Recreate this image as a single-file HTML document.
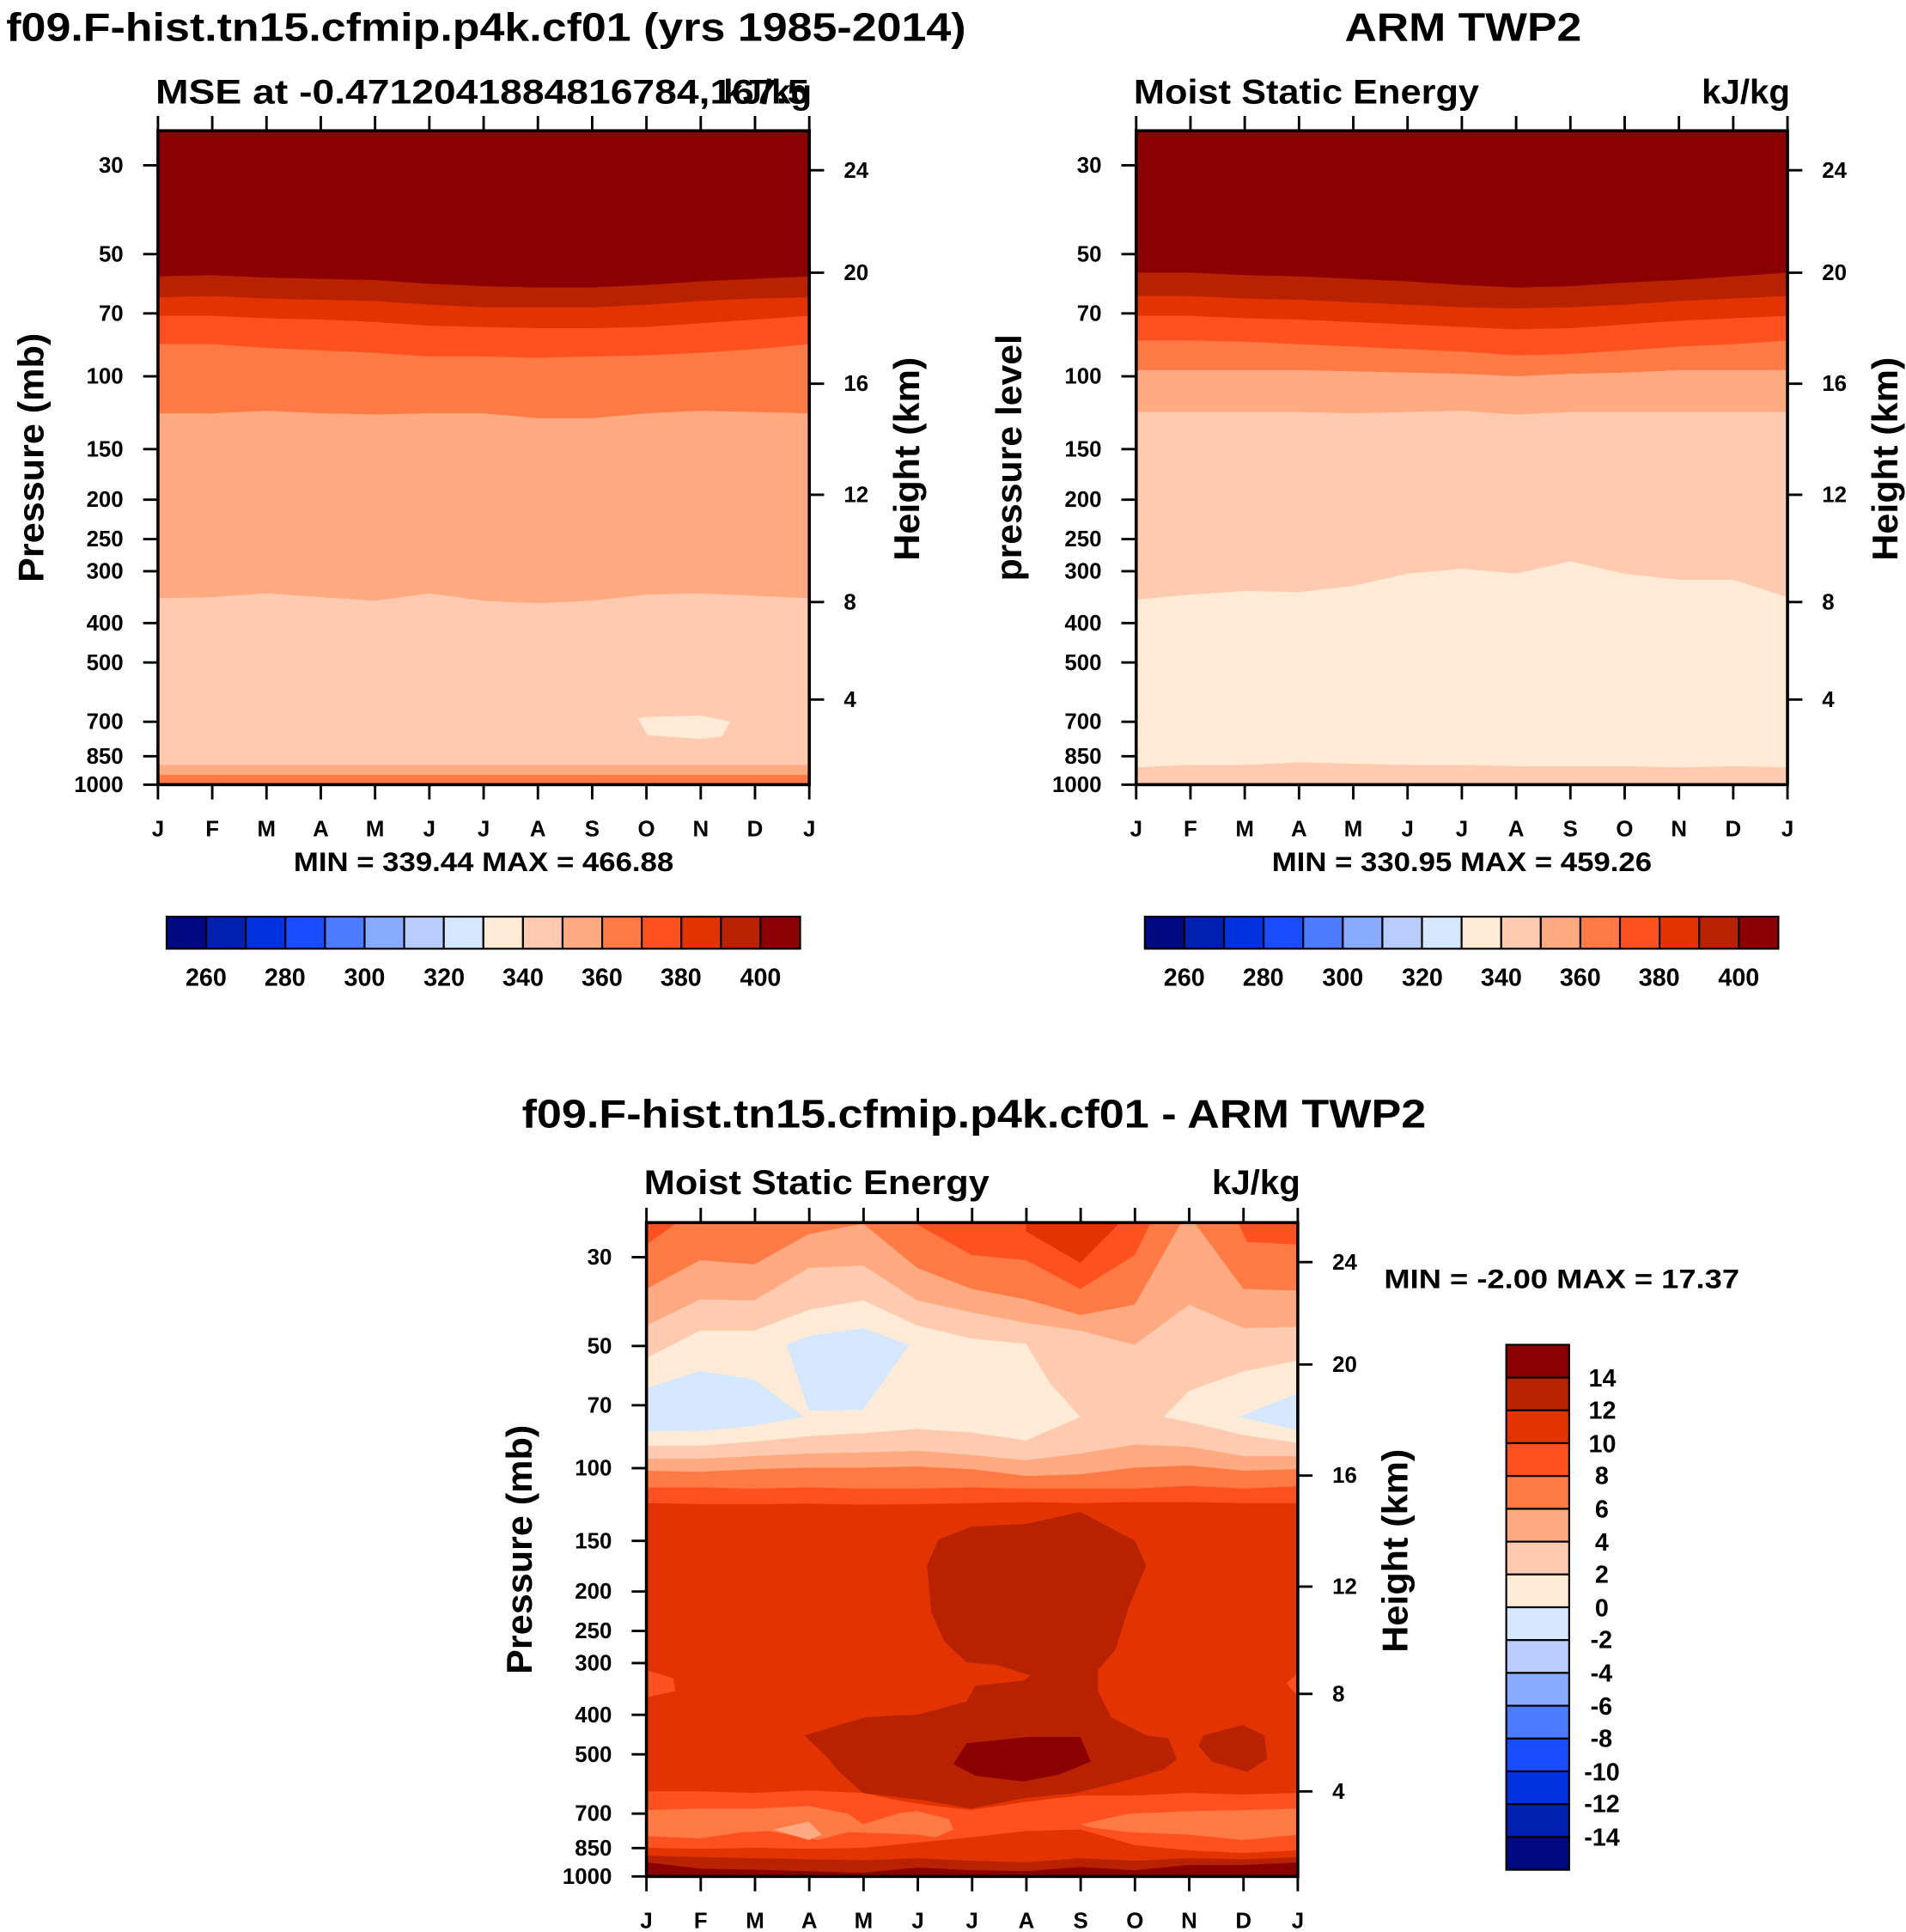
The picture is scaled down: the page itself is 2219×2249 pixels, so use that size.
<!DOCTYPE html>
<html><head><meta charset="utf-8"><style>html,body{margin:0;padding:0;background:#fff}svg{display:block}text{font-family:"Liberation Sans",sans-serif;font-weight:bold;fill:#000}</style></head><body>
<svg width="2219" height="2249" viewBox="0 0 1545 1566" xmlns="http://www.w3.org/2000/svg">
<defs>
<clipPath id="cp"><rect x="128" y="106" width="528" height="530"/></clipPath>
</defs>
<rect width="1545" height="1566" fill="#fff"/>
<text x="5" y="33" font-size="32" textLength="778" lengthAdjust="spacingAndGlyphs">f09.F-hist.tn15.cfmip.p4k.cf01 (yrs 1985-2014)</text>
<text x="1090" y="33" font-size="32" textLength="192" lengthAdjust="spacingAndGlyphs">ARM TWP2</text>
<text x="423" y="914" font-size="32" textLength="733" lengthAdjust="spacingAndGlyphs">f09.F-hist.tn15.cfmip.p4k.cf01 - ARM TWP2</text>

<!-- TOP LEFT -->
<g clip-path="url(#cp)">
<rect x="128" y="106" width="528" height="530" fill="#ff7a45"/>
<polygon fill="#ffaa80" points="128,106 128,628 656,628 656,106"/>
<polygon fill="#ffcbb0" points="128,106 128,620 656,620 656,106"/>
<polygon fill="#ffaa80" points="128,106 128,485 172,484 216,481 260,484 304,487 348,481 392,487 436,489 480,487 524,482 568,481 612,483 656,485 656,106"/>
<polygon fill="#ff7a45" points="128,106 128,335 172,335 216,333 260,335 304,336 348,335 392,335 436,339 480,339 524,335 568,333 612,334 656,335 656,106"/>
<polygon fill="#ff5020" points="128,106 128,279 172,279 216,282 260,284 304,286 348,289 392,289 436,290 480,289 524,288 568,286 612,283 656,279 656,106"/>
<polygon fill="#e23300" points="128,106 128,256 172,256 216,258 260,259 304,261 348,264 392,265 436,266 480,266 524,265 568,262 612,259 656,256 656,106"/>
<polygon fill="#b82200" points="128,106 128,241 172,240 216,242 260,243 304,244 348,247 392,249 436,249 480,249 524,247 568,244 612,242 656,241 656,106"/>
<polygon fill="#8b0000" points="128,106 128,224 172,223 216,225 260,226 304,227 348,230 392,232 436,233 480,233 524,231 568,228 612,226 656,224 656,106"/>
<polygon fill="#ffebd6" points="517,582 530,581 568,580 592,585 585,597 568,599 525,596"/>
</g>

<!-- TOP RIGHT -->
<g transform="translate(793,0)">
<g clip-path="url(#cp)">
<rect x="128" y="106" width="528" height="530" fill="#ffcbb0"/>
<polygon fill="#ffebd6" points="128,106 128,622 172,620 216,620 260,618 304,619 348,620 392,620 436,621 480,621 524,621 568,622 612,621 656,622 656,106"/>
<polygon fill="#ffcbb0" points="128,106 128,486 172,482 216,479 260,480 304,475 348,465 392,461 436,465 480,455 524,465 568,470 612,470 656,484 656,106"/>
<polygon fill="#ffaa80" points="128,106 128,334 172,334 216,334 260,334 304,335 348,334 392,333 436,336 480,334 524,334 568,334 612,334 656,334 656,106"/>
<polygon fill="#ff7a45" points="128,106 128,300 172,300 216,300 260,300 304,301 348,302 392,303 436,305 480,303 524,302 568,300 612,300 656,300 656,106"/>
<polygon fill="#ff5020" points="128,106 128,276 172,276 216,277 260,279 304,281 348,283 392,285 436,288 480,287 524,284 568,281 612,279 656,276 656,106"/>
<polygon fill="#e23300" points="128,106 128,256 172,256 216,258 260,259 304,261 348,263 392,265 436,267 480,266 524,263 568,260 612,258 656,256 656,106"/>
<polygon fill="#b82200" points="128,106 128,240 172,240 216,242 260,243 304,245 348,247 392,249 436,250 480,249 524,247 568,244 612,242 656,240 656,106"/>
<polygon fill="#8b0000" points="128,106 128,221 172,221 216,223 260,224 304,226 348,228 392,231 436,233 480,232 524,229 568,227 612,224 656,221 656,106"/>
</g>
</g>

<!-- BOTTOM -->
<g transform="translate(396,885)">
<g clip-path="url(#cp)">
<g transform="translate(21.4,20.1) scale(0.7107,0.4233)">
<rect x="150" y="203" width="743" height="1252" fill="#e23300"/>
<polygon fill="#ff5020" points="150,203 150,740 211,742 273,742 335,741 397,743 459,742 521,740 583,738 645,740 707,738 769,738 831,740 893,740 893,203"/>
<polygon fill="#ff7a45" points="150,203 150,710 211,710 273,712 335,710 397,712 459,712 521,710 583,712 645,712 707,712 769,707 831,712 893,708 893,203"/>
<polygon fill="#ffaa80" points="150,203 150,678 211,680 273,675 335,672 397,672 459,670 521,675 583,688 645,685 707,672 769,668 831,678 893,675 893,203"/>
<polygon fill="#ffcbb0" points="150,203 150,655 211,655 273,650 335,645 397,643 459,640 521,648 583,658 645,645 707,628 769,632 831,650 893,650 893,203"/>
<polygon fill="#ffaa80" points="150,203 150,400 211,350 273,352 335,290 397,285 459,352 521,375 583,395 645,410 707,437 769,360 831,405 893,403 893,203"/>
<polygon fill="#ff7a45" points="150,203 150,330 211,275 273,283 335,225 397,205 459,290 521,330 583,350 645,380 707,360 760,203 775,203 831,330 893,333 893,203"/>
<polygon fill="#ff5020" points="150,203 150,245 185,203"/>
<polygon fill="#ff5020" points="455,203 521,265 583,275 645,330 707,265 725,203"/>
<polygon fill="#ff5020" points="825,203 835,240 893,245 893,203"/>
<polygon fill="#e23300" points="583,203 583,220 645,280 690,203"/>
<polygon fill="#ffebd6" points="150,462 211,410 273,410 335,370 397,352 459,400 521,425 583,435 610,510 645,575 583,620 521,605 459,598 397,606 335,612 273,622 211,630 150,630"/>
<polygon fill="#ffebd6" points="893,467 831,488 769,525 740,575 769,585 831,610 893,625"/>
<polygon fill="#d6e8ff" points="150,520 211,487 273,503 330,575 273,592 211,602 150,603"/>
<polygon fill="#d6e8ff" points="310,437 335,420 397,405 450,437 397,562 335,563"/>
<polygon fill="#d6e8ff" points="825,575 893,530 893,600"/>
<polygon fill="#ff5020" points="150,1060 180,1075 183,1100 150,1112"/>
<polygon fill="#ff5020" points="893,1065 880,1085 893,1110"/>
<polygon fill="#b82200" points="483,810 521,785 583,780 645,757 707,812 720,860 700,940 685,1020 665,1060 665,1100 680,1150 720,1185 745,1190 755,1230 740,1250 700,1270 640,1295 580,1305 520,1325 470,1310 397,1295 370,1255 355,1225 330,1185 400,1150 460,1145 515,1120 525,1090 580,1080 588,1070 550,1050 515,1045 490,1005 475,950 470,860"/>
<polygon fill="#b82200" points="785,1185 830,1165 855,1185 858,1230 835,1255 795,1235 780,1205"/>
<polygon fill="#8b0000" points="515,1200 585,1188 645,1188 657,1235 620,1260 580,1273 525,1262 500,1240"/>
<polygon fill="#ff5020" points="150,1292 211,1292 273,1295 335,1290 397,1295 440,1310 470,1318 520,1328 583,1312 645,1300 707,1300 769,1295 831,1298 893,1295 893,1405 831,1410 769,1405 707,1395 645,1365 583,1368 521,1380 459,1390 397,1400 335,1402 273,1400 211,1402 150,1400"/>
<polygon fill="#ff7a45" points="150,1328 211,1325 273,1325 335,1320 380,1335 397,1355 440,1333 459,1330 495,1345 500,1365 480,1380 460,1375 380,1370 345,1385 290,1368 260,1370 211,1382 150,1378"/>
<polygon fill="#ffaa80" points="295,1365 335,1350 350,1375 335,1385"/>
<polygon fill="#ff7a45" points="645,1355 700,1335 769,1330 831,1328 893,1325 893,1375 831,1385 769,1375 700,1370 660,1362"/>
<polygon fill="#b82200" points="150,1455 150,1415 211,1418 273,1420 335,1422 397,1424 459,1420 521,1425 583,1428 645,1420 707,1425 769,1420 831,1422 893,1418 893,1455"/>
<polygon fill="#8b0000" points="150,1455 150,1428 211,1440 273,1442 335,1445 397,1448 459,1438 521,1443 583,1445 645,1437 707,1443 769,1433 831,1433 893,1428 893,1455"/>
</g>
</g>
</g>

<!-- AXES (3 copies) -->
<g stroke="#000" stroke-width="2" fill="none">
<rect x="128" y="106" width="528" height="530" stroke-width="2.5"/>
<path d="M128 636v12M172 636v12M216 636v12M260 636v12M304 636v12M348 636v12M392 636v12M436 636v12M480 636v12M524 636v12M568 636v12M612 636v12M656 636v12M128 106v-12M172 106v-12M216 106v-12M260 106v-12M304 106v-12M348 106v-12M392 106v-12M436 106v-12M480 106v-12M524 106v-12M568 106v-12M612 106v-12M656 106v-12M116 134h12M116 206h12M116 254h12M116 305h12M116 364h12M116 405h12M116 437h12M116 463h12M116 505h12M116 537h12M116 585h12M116 613h12M116 636h12M656 138h12M656 221h12M656 311h12M656 401h12M656 488h12M656 567h12"/>
</g>
<g transform="translate(793,0)" stroke="#000" stroke-width="2" fill="none">
<rect x="128" y="106" width="528" height="530" stroke-width="2.5"/>
<path d="M128 636v12M172 636v12M216 636v12M260 636v12M304 636v12M348 636v12M392 636v12M436 636v12M480 636v12M524 636v12M568 636v12M612 636v12M656 636v12M128 106v-12M172 106v-12M216 106v-12M260 106v-12M304 106v-12M348 106v-12M392 106v-12M436 106v-12M480 106v-12M524 106v-12M568 106v-12M612 106v-12M656 106v-12M116 134h12M116 206h12M116 254h12M116 305h12M116 364h12M116 405h12M116 437h12M116 463h12M116 505h12M116 537h12M116 585h12M116 613h12M116 636h12M656 138h12M656 221h12M656 311h12M656 401h12M656 488h12M656 567h12"/>
</g>
<g transform="translate(396,885)" stroke="#000" stroke-width="2" fill="none">
<rect x="128" y="106" width="528" height="530" stroke-width="2.5"/>
<path d="M128 636v12M172 636v12M216 636v12M260 636v12M304 636v12M348 636v12M392 636v12M436 636v12M480 636v12M524 636v12M568 636v12M612 636v12M656 636v12M128 106v-12M172 106v-12M216 106v-12M260 106v-12M304 106v-12M348 106v-12M392 106v-12M436 106v-12M480 106v-12M524 106v-12M568 106v-12M612 106v-12M656 106v-12M116 134h12M116 206h12M116 254h12M116 305h12M116 364h12M116 405h12M116 437h12M116 463h12M116 505h12M116 537h12M116 585h12M116 613h12M116 636h12M656 138h12M656 221h12M656 311h12M656 401h12M656 488h12M656 567h12"/>
</g>

<!-- axis text copies -->
<g font-size="18" text-anchor="middle">
<g><text x="128" y="678">J</text><text x="172" y="678">F</text><text x="216" y="678">M</text><text x="260" y="678">A</text><text x="304" y="678">M</text><text x="348" y="678">J</text><text x="392" y="678">J</text><text x="436" y="678">A</text><text x="480" y="678">S</text><text x="524" y="678">O</text><text x="568" y="678">N</text><text x="612" y="678">D</text><text x="656" y="678">J</text></g>
<g transform="translate(793,0)"><text x="128" y="678">J</text><text x="172" y="678">F</text><text x="216" y="678">M</text><text x="260" y="678">A</text><text x="304" y="678">M</text><text x="348" y="678">J</text><text x="392" y="678">J</text><text x="436" y="678">A</text><text x="480" y="678">S</text><text x="524" y="678">O</text><text x="568" y="678">N</text><text x="612" y="678">D</text><text x="656" y="678">J</text></g>
<g transform="translate(396,885)"><text x="128" y="678">J</text><text x="172" y="678">F</text><text x="216" y="678">M</text><text x="260" y="678">A</text><text x="304" y="678">M</text><text x="348" y="678">J</text><text x="392" y="678">J</text><text x="436" y="678">A</text><text x="480" y="678">S</text><text x="524" y="678">O</text><text x="568" y="678">N</text><text x="612" y="678">D</text><text x="656" y="678">J</text></g>
</g>
<g font-size="18" text-anchor="end">
<g><text x="100" y="140">30</text><text x="100" y="212">50</text><text x="100" y="260">70</text><text x="100" y="311">100</text><text x="100" y="370">150</text><text x="100" y="411">200</text><text x="100" y="443">250</text><text x="100" y="469">300</text><text x="100" y="511">400</text><text x="100" y="543">500</text><text x="100" y="591">700</text><text x="100" y="619">850</text><text x="100" y="642">1000</text></g>
<g transform="translate(793,0)"><text x="100" y="140">30</text><text x="100" y="212">50</text><text x="100" y="260">70</text><text x="100" y="311">100</text><text x="100" y="370">150</text><text x="100" y="411">200</text><text x="100" y="443">250</text><text x="100" y="469">300</text><text x="100" y="511">400</text><text x="100" y="543">500</text><text x="100" y="591">700</text><text x="100" y="619">850</text><text x="100" y="642">1000</text></g>
<g transform="translate(396,885)"><text x="100" y="140">30</text><text x="100" y="212">50</text><text x="100" y="260">70</text><text x="100" y="311">100</text><text x="100" y="370">150</text><text x="100" y="411">200</text><text x="100" y="443">250</text><text x="100" y="469">300</text><text x="100" y="511">400</text><text x="100" y="543">500</text><text x="100" y="591">700</text><text x="100" y="619">850</text><text x="100" y="642">1000</text></g>
</g>
<g font-size="18">
<g><text x="684" y="144">24</text><text x="684" y="227">20</text><text x="684" y="317">16</text><text x="684" y="407">12</text><text x="684" y="494">8</text><text x="684" y="573">4</text></g>
<g transform="translate(793,0)"><text x="684" y="144">24</text><text x="684" y="227">20</text><text x="684" y="317">16</text><text x="684" y="407">12</text><text x="684" y="494">8</text><text x="684" y="573">4</text></g>
<g transform="translate(396,885)"><text x="684" y="144">24</text><text x="684" y="227">20</text><text x="684" y="317">16</text><text x="684" y="407">12</text><text x="684" y="494">8</text><text x="684" y="573">4</text></g>
</g>

<!-- subtitles -->
<g font-size="28">
<text x="126" y="84" textLength="530" lengthAdjust="spacingAndGlyphs">MSE at -0.4712041884816784,167.5</text>
<text x="658" y="84" text-anchor="end">kJ/kg</text>
<text x="919" y="84" textLength="280" lengthAdjust="spacingAndGlyphs">Moist Static Energy</text>
<text x="1451" y="84" text-anchor="end">kJ/kg</text>
<text x="522" y="968" textLength="280" lengthAdjust="spacingAndGlyphs">Moist Static Energy</text>
<text x="1054" y="968" text-anchor="end">kJ/kg</text>
</g>
<g font-size="29" text-anchor="middle">
<text transform="translate(35,371) rotate(-90)" textLength="202" lengthAdjust="spacingAndGlyphs">Pressure (mb)</text>
<text transform="translate(745,372) rotate(-90)" textLength="165" lengthAdjust="spacingAndGlyphs">Height (km)</text>
<text transform="translate(828,371) rotate(-90)" textLength="200" lengthAdjust="spacingAndGlyphs">pressure level</text>
<text transform="translate(1538,372) rotate(-90)" textLength="165" lengthAdjust="spacingAndGlyphs">Height (km)</text>
<text transform="translate(431,1256) rotate(-90)" textLength="202" lengthAdjust="spacingAndGlyphs">Pressure (mb)</text>
<text transform="translate(1141,1257) rotate(-90)" textLength="165" lengthAdjust="spacingAndGlyphs">Height (km)</text>
</g>
<g font-size="22">
<text x="238" y="706" textLength="308" lengthAdjust="spacingAndGlyphs">MIN = 339.44 MAX = 466.88</text>
<text x="1031" y="706" textLength="308" lengthAdjust="spacingAndGlyphs">MIN = 330.95 MAX = 459.26</text>
<text x="1122" y="1044" textLength="288" lengthAdjust="spacingAndGlyphs">MIN =  -2.00 MAX =  17.37</text>
</g>

<!-- colorbars horizontal -->
<g stroke="#000" stroke-width="1.5">
<rect x="135" y="743" width="32.1" height="26" fill="#000a80"/>
<rect x="167.1" y="743" width="32.1" height="26" fill="#0020b0"/>
<rect x="199.2" y="743" width="32.1" height="26" fill="#0033dd"/>
<rect x="231.3" y="743" width="32.1" height="26" fill="#1a4dff"/>
<rect x="263.4" y="743" width="32.1" height="26" fill="#4b7bff"/>
<rect x="295.5" y="743" width="32.1" height="26" fill="#88aaff"/>
<rect x="327.6" y="743" width="32.1" height="26" fill="#b8ccff"/>
<rect x="359.7" y="743" width="32.1" height="26" fill="#d6e8ff"/>
<rect x="391.8" y="743" width="32.1" height="26" fill="#ffebd6"/>
<rect x="423.9" y="743" width="32.1" height="26" fill="#ffcbb0"/>
<rect x="456" y="743" width="32.1" height="26" fill="#ffaa80"/>
<rect x="488.1" y="743" width="32.1" height="26" fill="#ff7a45"/>
<rect x="520.2" y="743" width="32.1" height="26" fill="#ff5020"/>
<rect x="552.3" y="743" width="32.1" height="26" fill="#e23300"/>
<rect x="584.4" y="743" width="32.1" height="26" fill="#b82200"/>
<rect x="616.5" y="743" width="32.1" height="26" fill="#8b0000"/>
</g>
<g transform="translate(793,0)" stroke="#000" stroke-width="1.5">
<rect x="135" y="743" width="32.1" height="26" fill="#000a80"/>
<rect x="167.1" y="743" width="32.1" height="26" fill="#0020b0"/>
<rect x="199.2" y="743" width="32.1" height="26" fill="#0033dd"/>
<rect x="231.3" y="743" width="32.1" height="26" fill="#1a4dff"/>
<rect x="263.4" y="743" width="32.1" height="26" fill="#4b7bff"/>
<rect x="295.5" y="743" width="32.1" height="26" fill="#88aaff"/>
<rect x="327.6" y="743" width="32.1" height="26" fill="#b8ccff"/>
<rect x="359.7" y="743" width="32.1" height="26" fill="#d6e8ff"/>
<rect x="391.8" y="743" width="32.1" height="26" fill="#ffebd6"/>
<rect x="423.9" y="743" width="32.1" height="26" fill="#ffcbb0"/>
<rect x="456" y="743" width="32.1" height="26" fill="#ffaa80"/>
<rect x="488.1" y="743" width="32.1" height="26" fill="#ff7a45"/>
<rect x="520.2" y="743" width="32.1" height="26" fill="#ff5020"/>
<rect x="552.3" y="743" width="32.1" height="26" fill="#e23300"/>
<rect x="584.4" y="743" width="32.1" height="26" fill="#b82200"/>
<rect x="616.5" y="743" width="32.1" height="26" fill="#8b0000"/>
</g>
<g font-size="20" text-anchor="middle">
<g><text x="167" y="799">260</text><text x="231" y="799">280</text><text x="295.5" y="799">300</text><text x="360" y="799">320</text><text x="424" y="799">340</text><text x="488" y="799">360</text><text x="552" y="799">380</text><text x="616.5" y="799">400</text></g>
<g transform="translate(793,0)"><text x="167" y="799">260</text><text x="231" y="799">280</text><text x="295.5" y="799">300</text><text x="360" y="799">320</text><text x="424" y="799">340</text><text x="488" y="799">360</text><text x="552" y="799">380</text><text x="616.5" y="799">400</text></g>
</g>

<!-- vertical colorbar -->
<g stroke="#000" stroke-width="1.5">
<rect x="1221" y="1090" width="51" height="26.6" fill="#8b0000"/>
<rect x="1221" y="1116.6" width="51" height="26.6" fill="#b82200"/>
<rect x="1221" y="1143.2" width="51" height="26.6" fill="#e23300"/>
<rect x="1221" y="1169.8" width="51" height="26.6" fill="#ff5020"/>
<rect x="1221" y="1196.4" width="51" height="26.6" fill="#ff7a45"/>
<rect x="1221" y="1223" width="51" height="26.6" fill="#ffaa80"/>
<rect x="1221" y="1249.6" width="51" height="26.6" fill="#ffcbb0"/>
<rect x="1221" y="1276.2" width="51" height="26.6" fill="#ffebd6"/>
<rect x="1221" y="1302.8" width="51" height="26.6" fill="#d6e8ff"/>
<rect x="1221" y="1329.4" width="51" height="26.6" fill="#b8ccff"/>
<rect x="1221" y="1356" width="51" height="26.6" fill="#88aaff"/>
<rect x="1221" y="1382.6" width="51" height="26.6" fill="#4b7bff"/>
<rect x="1221" y="1409.2" width="51" height="26.6" fill="#1a4dff"/>
<rect x="1221" y="1435.8" width="51" height="26.6" fill="#0033dd"/>
<rect x="1221" y="1462.4" width="51" height="26.6" fill="#0020b0"/>
<rect x="1221" y="1489" width="51" height="26.6" fill="#000a80"/>
</g>
<g font-size="20" text-anchor="end">
<text x="1310" y="1124">14</text><text x="1310" y="1150">12</text><text x="1310" y="1177">10</text><text x="1304" y="1203">8</text><text x="1304" y="1230">6</text><text x="1304" y="1257">4</text><text x="1304" y="1283">2</text><text x="1304" y="1310">0</text><text x="1307" y="1336">-2</text><text x="1307" y="1363">-4</text><text x="1307" y="1390">-6</text><text x="1307" y="1416">-8</text><text x="1313" y="1443">-10</text><text x="1313" y="1469">-12</text><text x="1313" y="1496">-14</text>
</g>
</svg>
</body></html>
